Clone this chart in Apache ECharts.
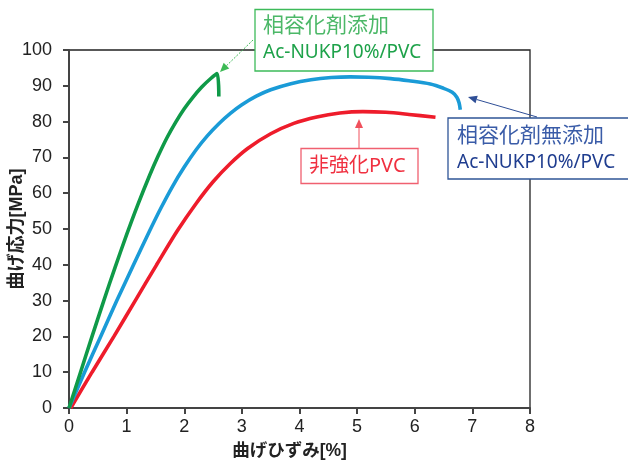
<!DOCTYPE html>
<html><head><meta charset="utf-8">
<script src="https://cdn.jsdelivr.net/npm/echarts@6/dist/echarts.min.js"></script>
<style>html,body{margin:0;padding:0;background:#fff}#c{width:628px;height:461px}</style>
</head><body><div id="c"></div>
<script>
// ---- data ----
const xTicks = [0,1,2,3,4,5,6,7,8];
const yTicks = [0,10,20,30,40,50,60,70,80,90,100];
const xTitle = '曲げひずみ[%]';
const yTitle = '曲げ応力[MPa]';

const strainGreen = [0,0.2,0.4,0.6,0.8,1.0,1.2,1.4,1.55,1.7,1.85,2.0,2.15,2.3,2.45,2.57,2.60];
const stressGreen = [0,10,20,29.8,39.3,48.4,57.0,65.0,70.5,75.5,79.8,83.6,86.8,89.6,91.9,93.4,87.0];

const strainBlue = [0,0.27,0.55,0.83,1.12,1.4,1.6,1.8,2.0,2.2,2.4,2.6,2.8,3.0,3.25,3.5,3.85,4.2,4.55,4.88,5.2,5.58,5.9,6.27,6.5,6.65,6.73,6.77,6.79];
const stressBlue = [0,10,20,30,40,49.5,56,62,67.3,72,76,79.4,82.3,84.7,87.1,88.9,90.6,91.7,92.3,92.5,92.4,92.0,91.4,90.5,89.3,88.2,86.8,85.2,83.3];

const strainRed = [0.03,0.4,0.78,1.15,1.52,1.88,2.2,2.5,2.8,3.1,3.5,3.9,4.3,4.7,5.1,5.5,5.9,6.36];
const stressRed = [0,10,20,30,40,49.5,57,63.2,68.3,72.5,76.6,79.5,81.3,82.4,82.8,82.6,82.0,81.2];

const labelGreen = ['相容化剤添加','Ac-NUKP10%/PVC'];
const labelBlue = ['相容化剤無添加','Ac-NUKP10%/PVC'];
const labelRed = ['非強化PVC'];

const zip = (a,b) => a.map((v,i)=>[v,b[i]]);

const chart = echarts.init(document.getElementById('c'), null, {renderer:'canvas'});
const FONT = "'Liberation Sans','Noto Sans CJK JP',sans-serif";
const TFONT = "'Noto Sans','Noto Sans CJK JP',sans-serif";

function arrow(x1,y1,x2,y2,color,dashed){
  const dx=x2-x1, dy=y2-y1, L=Math.hypot(dx,dy), ux=dx/L, uy=dy/L;
  const hl=9, hw=4;
  const bx=x2-ux*hl, by=y2-uy*hl;
  return [
    {type:'line', z:100, shape:{x1:x1,y1:y1,x2:bx,y2:by}, style:{stroke:color,lineWidth:1,lineDash:dashed?[2,1.5]:null}},
    {type:'polygon', z:100, shape:{points:[[x2,y2],[bx-uy*hw,by+ux*hw],[bx+uy*hw,by-ux*hw]]}, style:{fill:color}}
  ];
}

function box(x,y,w,h,stroke){
  return {type:'rect', z:100, shape:{x:x,y:y,width:w,height:h}, style:{fill:'#fff',stroke:stroke,lineWidth:1.3}};
}
function txt(x,y,t,color,size){
  return {type:'text', z:101, x:x, y:y, style:{text:t, fill:color, font:size+'px '+TFONT, textVerticalAlign:'middle', textAlign:'left'}};
}

const graphics = [].concat(
  arrow(253,40,220,72,'#3dba55',true),
  arrow(537,117,468,97,'#2f4f97',false),
  arrow(359,148,359,119,'#f0505c',false),
  [box(255,9.5,178,61.5,'#3dba5a'),
   txt(263,26,labelGreen[0],'#4cb868',21),
   txt(263,53,labelGreen[1],'#1ea24a',19),
   box(448,118,185,61,'#2f5597'),
   txt(457,136,labelBlue[0],'#3a5ca8',21),
   txt(457,163,labelBlue[1],'#1f3d8f',19),
   box(301,148.5,117,35,'#f06070'),
   txt(309,166,labelRed[0],'#f03040',20)]
);

const lineStyle = (c)=>({color:c,width:3.6});
chart.setOption({
  animation:false,
  backgroundColor:'#fff',
  grid:{left:69,right:98,top:50,bottom:53,outerBoundsMode:'none',containLabel:false,show:true,borderColor:'#222',borderWidth:1.3,backgroundColor:'transparent'},
  xAxis:{type:'value',min:0,max:8,interval:1,
    axisLine:{show:true,onZero:false,lineStyle:{color:'#444',width:2}},
    axisTick:{show:true,inside:false,length:6,lineStyle:{color:'#444',width:2}},
    splitLine:{show:false},
    axisLabel:{color:'#222',fontSize:18,fontFamily:FONT,margin:10,
      formatter:(v)=> xTicks.includes(v)? String(v):''},
    name:xTitle,nameLocation:'middle',nameGap:34,nameMoveOverlap:false,
    nameTextStyle:{color:'#222',fontSize:17.5,fontWeight:'bold',fontFamily:FONT,padding:[0,20,0,0]}
  },
  yAxis:{type:'value',min:0,max:100,interval:10,
    axisLine:{show:true,onZero:false,lineStyle:{color:'#444',width:2}},
    axisTick:{show:true,inside:false,length:6,lineStyle:{color:'#444',width:2}},
    splitLine:{show:false},
    axisLabel:{color:'#222',fontSize:18,fontFamily:FONT,margin:17,
      formatter:(v)=> yTicks.includes(v)? String(v):''},
    name:yTitle,nameLocation:'middle',nameGap:43,nameRotate:90,nameMoveOverlap:false,
    nameTextStyle:{color:'#222',fontSize:18,fontWeight:'bold',fontFamily:FONT}
  },
  series:[
    {type:'line',data:zip(strainRed,stressRed),showSymbol:false,smooth:0.3,lineStyle:lineStyle('#ee1c2b'),z:3},
    {type:'line',data:zip(strainBlue,stressBlue),showSymbol:false,smooth:0.3,lineStyle:lineStyle('#1a9bd7'),z:4},
    {type:'line',data:zip(strainGreen,stressGreen),showSymbol:false,smooth:0.3,lineStyle:lineStyle('#0f9a48'),z:5}
  ],
  graphic:graphics
});
</script></body></html>
